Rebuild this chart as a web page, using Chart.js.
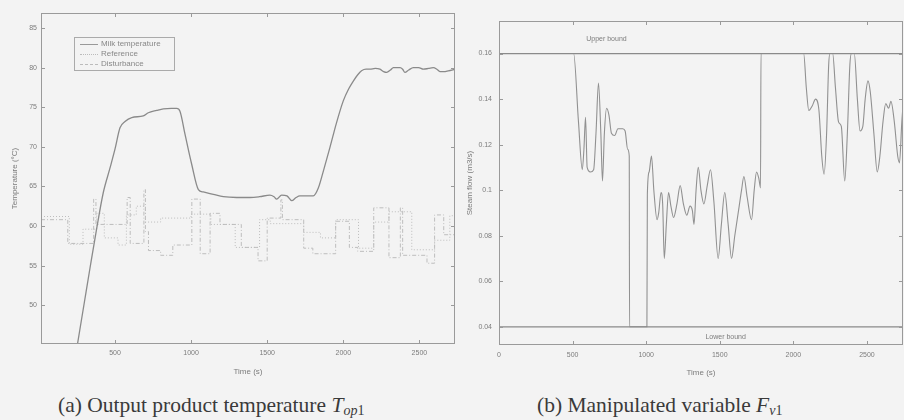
<!DOCTYPE html>
<html><head><meta charset="utf-8">
<script src="https://cdn.jsdelivr.net/npm/chart.js@4"></script>
<style>
html,body{margin:0;padding:0;background:#f3f3f3;}
body{width:904px;height:420px;position:relative;overflow:hidden;font-family:"Liberation Sans",Arial,sans-serif;}
canvas{position:absolute;top:0;}
#ca{left:0;}
#cb{left:460px;}
.legend{position:absolute;left:74px;top:37px;width:99px;height:32px;border:1px solid #aaa;font-size:8px;color:#888;}
.legend .row{position:absolute;left:0;width:99px;height:10px;line-height:10px;}
.legend .ln{position:absolute;left:5px;top:5px;width:18px;height:0;border-top:1px solid #999;}
.legend .tx{position:absolute;left:26px;top:0;white-space:nowrap;}
.cap{position:absolute;top:393px;font-family:"Liberation Serif","Times New Roman",serif;font-size:21.5px;line-height:24px;color:#3a3a3a;white-space:nowrap;}
.cap sub{font-size:14px;vertical-align:-3px;}
</style></head>
<body>
<canvas id="ca" width="460" height="385"></canvas>
<canvas id="cb" width="444" height="385"></canvas>
<div class="legend">
 <div class="row" style="top:1px"><span class="ln"></span><span class="tx">Milk temperature</span></div>
 <div class="row" style="top:11px"><span class="ln" style="border-top:1px dotted #bbb"></span><span class="tx">Reference</span></div>
 <div class="row" style="top:21px"><span class="ln" style="border-top:1px dashed #bbb"></span><span class="tx">Disturbance</span></div>
</div>
<div class="cap" style="left:58px">(a) Output product temperature <i>T</i><sub><i>op</i>1</sub></div>
<div class="cap" style="left:537px">(b) Manipulated variable <i>F</i><sub><i>v</i>1</sub></div>
<script>
// ---------- data: chart (a) ----------
const milkTime=[253,300,336,380,423,467,500,533,566,610,686,719,774,818,870,905,927,960,1004,1048,1080,1146,1212,1300,1387,1450,1518,1545,1562,1595,1630,1661,1690,1715,1803,1836,1870,1912,1955,2000,2035,2066,2095,2120,2150,2175,2210,2241,2265,2285,2310,2329,2373,2390,2405,2430,2460,2495,2526,2560,2591,2615,2635,2660,2690,2734];
const milkTemp=[45.0,50.5,54.7,59.7,64.2,67.3,69.7,72.4,73.2,73.7,73.9,74.3,74.6,74.8,74.85,74.85,74.5,71.6,67.8,64.6,64.3,64.0,63.7,63.6,63.6,63.7,63.9,63.7,63.4,63.9,63.8,63.2,63.6,63.8,63.8,64.8,67.0,69.9,73.0,75.8,77.3,78.3,79.1,79.6,79.8,79.8,79.9,79.8,79.5,79.4,79.7,80.0,80.0,79.8,79.4,79.7,80.0,80.0,79.8,79.9,80.0,79.8,79.5,79.5,79.6,79.8];
const refTime=[14,200,290,380,430,520,575,640,700,800,1000,1130,1290,1450,1520,1740,1850,1950,2100,2200,2300,2450,2600,2700,2734];
const refTemp=[61.2,57.7,59.6,61.6,58.5,57.6,61.4,62.5,60.5,61.0,61.5,60.2,57.3,60.8,60.3,59.2,58.5,60.8,57.2,60.5,61.8,57.0,58.2,61.3,61.3];
const distTime=[14,190,360,375,580,600,690,700,720,800,880,1005,1060,1125,1190,1330,1440,1500,1590,1600,1740,1800,1950,2040,2095,2200,2300,2375,2390,2550,2600,2660,2734];
const distTemp=[60.8,57.8,63.4,60.2,63.6,57.8,64.6,59.3,56.9,56.3,57.6,63.4,56.5,61.6,60.2,57.3,55.6,61.0,63.3,60.8,57.2,56.5,60.6,57.3,56.8,62.3,56.0,62.3,56.3,55.3,61.4,58.9,58.9];
const tempTicks=[50,55,60,65,70,75,80,85];
const timeTicksA=[500,1000,1500,2000,2500];

// ---------- data: chart (b) ----------
const steamTime=[0,507,540,566,577,588,599,621,643,659,676,692,703,716,731,747,764,786,808,841,857,874,885,887,1005,1008,1020,1036,1052,1074,1085,1101,1112,1123,1137,1152,1168,1186,1209,1231,1253,1276,1298,1314,1325,1339,1354,1372,1392,1415,1437,1460,1489,1511,1534,1557,1580,1602,1632,1648,1664,1686,1716,1734,1750,1766,1777,1780,2070,2088,2105,2128,2151,2174,2193,2209,2226,2240,2249,2267,2286,2307,2326,2349,2367,2384,2395,2414,2435,2453,2472,2488,2507,2523,2547,2570,2588,2609,2628,2647,2663,2686,2709,2721,2737,2749];
const steamFlow=[0.16,0.16,0.13,0.109,0.118,0.132,0.110,0.108,0.109,0.125,0.147,0.125,0.104,0.125,0.136,0.133,0.125,0.124,0.127,0.127,0.126,0.118,0.115,0.04,0.04,0.098,0.108,0.115,0.100,0.087,0.090,0.099,0.094,0.070,0.085,0.099,0.093,0.088,0.094,0.102,0.094,0.089,0.093,0.091,0.085,0.100,0.110,0.100,0.094,0.102,0.109,0.095,0.070,0.085,0.099,0.085,0.070,0.080,0.093,0.100,0.106,0.097,0.087,0.100,0.108,0.105,0.101,0.16,0.16,0.145,0.135,0.137,0.140,0.135,0.115,0.107,0.125,0.155,0.16,0.16,0.145,0.130,0.128,0.104,0.125,0.155,0.16,0.16,0.140,0.126,0.128,0.140,0.148,0.143,0.125,0.108,0.115,0.130,0.138,0.136,0.139,0.130,0.115,0.112,0.130,0.140];
const boundValues=[0.16,0.04];
const boundSpan=[0,2745];
const boundNames=['Upper bound','Lower bound'];
const boundLabelTime=[730,1540];
const boundLabelFlow=[0.1665,0.0355];
const flowTicks=[0.04,0.06,0.08,0.1,0.12,0.14,0.16];
const timeTicksB=[0,500,1000,1500,2000,2500];

// ---------- helpers ----------
const pts=(xs,ys)=>xs.map((x,i)=>({x:x,y:ys[i]}));
const tickFont={family:'"Liberation Sans", Arial, sans-serif',size:7};
const titleFont={family:'"Liberation Sans", Arial, sans-serif',size:8};
const textCol='#7c7c7c';

const framePlugin={id:'frame',afterDatasetsDraw(chart){
  const {ctx,chartArea:a,scales}=chart; const x=scales.x,y=scales.y;
  ctx.save(); ctx.strokeStyle='#9a9a9a'; ctx.lineWidth=1;
  ctx.strokeRect(a.left+0.5,a.top+0.5,a.right-a.left-1,a.bottom-a.top-1);
  ctx.beginPath();
  x.ticks.forEach(t=>{const p=Math.round(x.getPixelForValue(t.value))+0.5;
    ctx.moveTo(p,a.bottom);ctx.lineTo(p,a.bottom-4);ctx.moveTo(p,a.top);ctx.lineTo(p,a.top+4);});
  y.ticks.forEach(t=>{const p=Math.round(y.getPixelForValue(t.value))+0.5;
    ctx.moveTo(a.left,p);ctx.lineTo(a.left+4,p);ctx.moveTo(a.right,p);ctx.lineTo(a.right-4,p);});
  ctx.stroke(); ctx.restore();
}};

const boundLabelPlugin={id:'boundLabels',afterDatasetsDraw(chart){
  const {ctx,scales}=chart;
  ctx.save(); ctx.fillStyle=textCol; ctx.font='7px "Liberation Sans", Arial, sans-serif';
  ctx.textAlign='center'; ctx.textBaseline='middle';
  boundNames.forEach((n,i)=>{
    ctx.fillText(n,scales.x.getPixelForValue(boundLabelTime[i]),scales.y.getPixelForValue(boundLabelFlow[i]));
  });
  ctx.restore();
}};

function axes(o){
  return {
    x:{type:'linear',min:o.xmin,max:o.xmax,
       afterBuildTicks:s=>{s.ticks=o.xt.map(v=>({value:v}));},
       afterFit:s=>{s.height=o.xh;},
       grid:{display:false,drawTicks:false},border:{display:false},
       ticks:{font:tickFont,color:textCol,padding:o.xpad,maxRotation:0,autoSkip:false,callback:v=>String(v)},
       title:{display:true,text:'Time (s)',font:titleFont,color:textCol,padding:{top:0,bottom:o.xtp}}},
    y:{type:'linear',min:o.ymin,max:o.ymax,
       afterBuildTicks:s=>{s.ticks=o.yt.map(v=>({value:v}));},
       afterFit:s=>{s.width=o.yw;},
       grid:{display:false,drawTicks:false},border:{display:false},
       ticks:{font:tickFont,color:textCol,padding:o.ypad,autoSkip:false,callback:v=>String(v)},
       title:{display:true,text:o.ytitle,font:titleFont,color:textCol,padding:{top:o.ytp,bottom:0}}}
  };
}

Chart.defaults.animation=false;

new Chart(document.getElementById('ca'),{
  type:'line',
  data:{datasets:[
    {label:'Milk temperature',data:pts(milkTime,milkTemp),borderColor:'#8a8a8a',borderWidth:1.3,pointRadius:0,cubicInterpolationMode:'monotone'},
    {label:'Reference',data:pts(refTime,refTemp),borderColor:'#bdbdbd',borderWidth:1,borderDash:[1,2],pointRadius:0,stepped:true},
    {label:'Disturbance',data:pts(distTime,distTemp),borderColor:'#bdbdbd',borderWidth:1,borderDash:[4,2,1,2],pointRadius:0,stepped:true}
  ]},
  options:{responsive:false,devicePixelRatio:1,
    layout:{padding:{left:0,right:5,top:13,bottom:0}},
    plugins:{legend:{display:false},tooltip:{enabled:false}},
    scales:axes({xmin:14,xmax:2734,xt:timeTicksA,xh:41,xpad:5,xtp:8,
                 ymin:45.1,ymax:86.9,yt:tempTicks,yw:41,ypad:4,ytp:10,ytitle:'Temperature (°C)'})},
  plugins:[framePlugin]
});

new Chart(document.getElementById('cb'),{
  type:'line',
  data:{datasets:[
    {label:'Upper bound',data:pts(boundSpan,[boundValues[0],boundValues[0]]),borderColor:'#8a8a8a',borderWidth:1.2,pointRadius:0},
    {label:'Lower bound',data:pts(boundSpan,[boundValues[1],boundValues[1]]),borderColor:'#8a8a8a',borderWidth:1.2,pointRadius:0},
    {label:'Steam flow',data:pts(steamTime,steamFlow),borderColor:'#919191',borderWidth:1.1,pointRadius:0,cubicInterpolationMode:'monotone'}
  ]},
  options:{responsive:false,devicePixelRatio:1,
    layout:{padding:{left:0,right:1,top:21,bottom:0}},
    plugins:{legend:{display:false},tooltip:{enabled:false}},
    scales:axes({xmin:0,xmax:2745,xt:timeTicksB,xh:40,xpad:6,xtp:7,
                 ymin:0.032,ymax:0.1743,yt:flowTicks,yw:39,ypad:7,ytp:5,ytitle:'Steam flow (m3/s)'})},
  plugins:[framePlugin,boundLabelPlugin]
});
</script>
</body></html>
